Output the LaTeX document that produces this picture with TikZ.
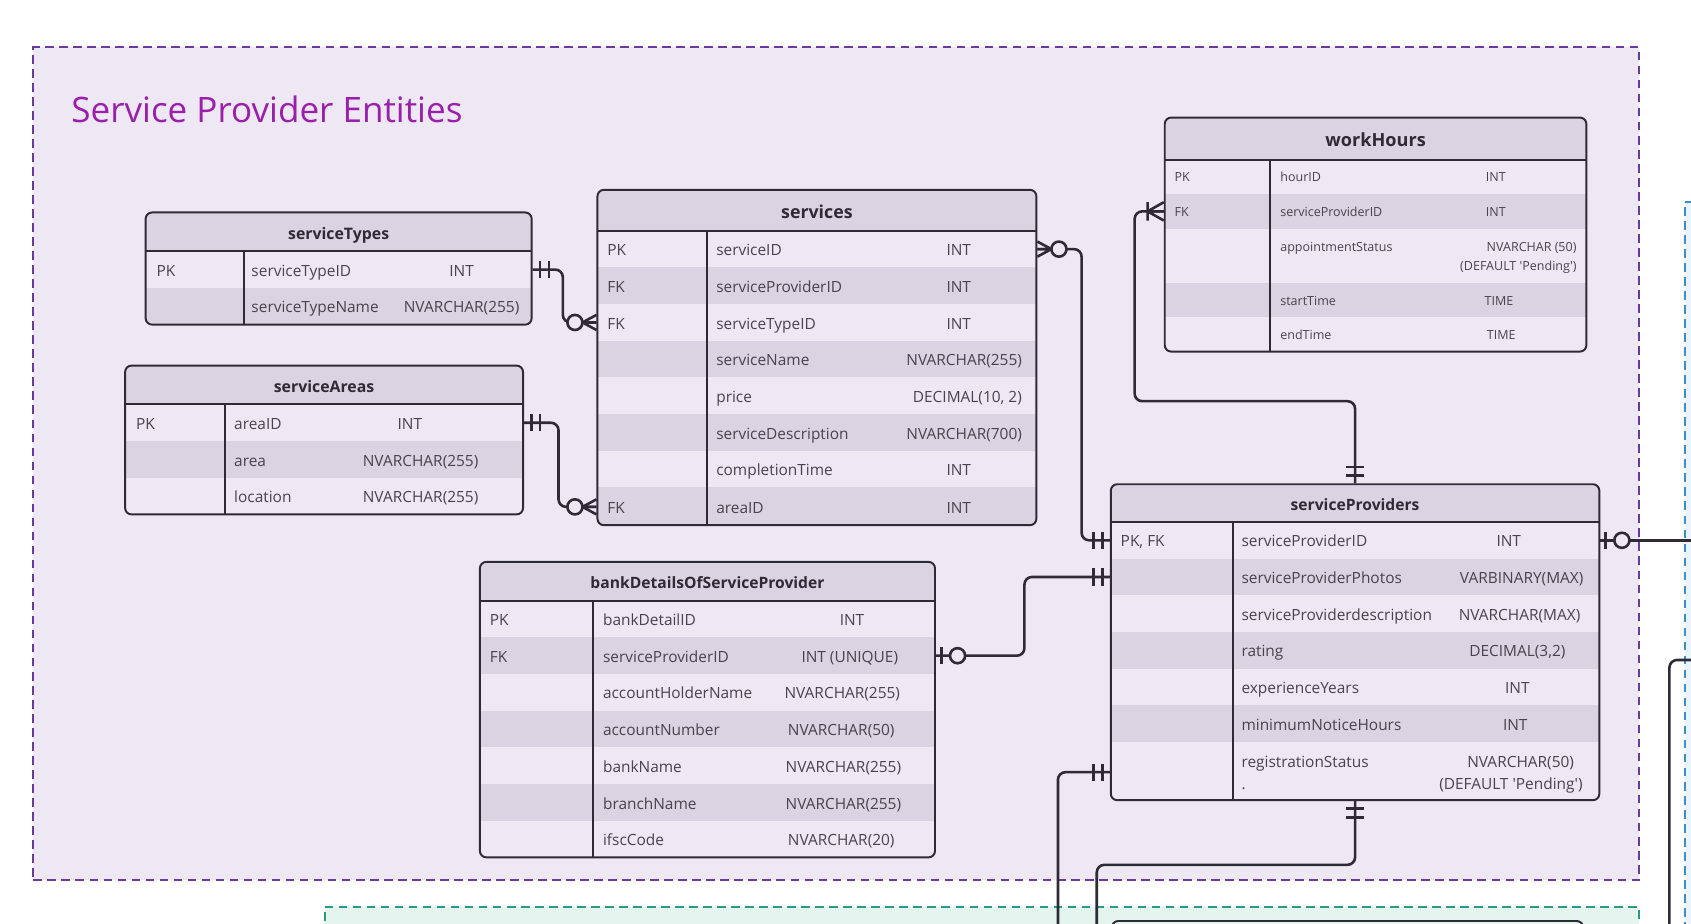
\documentclass[tikz,border=0pt]{standalone}
\usepackage{fontspec}
\setmainfont{Open Sans}
\usetikzlibrary{fit,calc}
\definecolor{bgP}{HTML}{EEE8F5}
\definecolor{rowgy}{HTML}{DAD3E1}
\definecolor{lineC}{HTML}{2E2A36}
\definecolor{txtC}{HTML}{48434F}
\definecolor{purpD}{HTML}{6A3A9E}
\definecolor{titleC}{HTML}{9A1FAA}
\definecolor{greenD}{HTML}{2A9A80}
\definecolor{greenF}{HTML}{E4F5EF}
\definecolor{blueD}{HTML}{3A8ED2}
\definecolor{blueF}{HTML}{EBF4FC}
\tikzset{
  erbox/.style={draw=lineC, line width=1.8pt, rounded corners=6pt, inner sep=0pt},
  erline/.style={draw=lineC, line width=1.8pt},
  conn/.style={draw=lineC, line width=2.4pt, rounded corners=7pt},
  mk/.style={draw=lineC, line width=2.4pt},
  cell/.style={inner sep=0pt, text=txtC, font=\fontsize{\ERfs}{\ERfs}\selectfont},
  hdrtext/.style={inner sep=0pt, text=lineC, font=\fontsize{\ERhs}{\ERhs}\selectfont\bfseries},
  container/.style={line width=1.8pt, dash pattern=on 8pt off 5pt, inner sep=0pt},
}
% table frame: name, left, top, right, header bottom, bottom, divider, gray rows, title
\newcommand\ERtable[9]{%
  \begin{scope}
    \clip[rounded corners=6pt] (#2,#3) rectangle (#4,#6);
    \fill[bgP] (#2,#3) rectangle (#4,#6);
    \fill[rowgy] (#2,#3) rectangle (#4,#5);
    \foreach \ya/\yb in {#8}{\fill[rowgy] (#2,\ya) rectangle (#4,\yb);}
  \end{scope}
  \draw[erline] (#2,#5) -- (#4,#5) (#7,#5) -- (#7,#6);
  \node[erbox, fit={(#2,#3)(#4,#6)}] (#1) {};
  \node[hdrtext, anchor=base] (#1-title) at ({(#2+#4)/2},{(#3+#5)/2+0.36*\ERhs+1.5}) {#9};
}
% row: [type x], id, y centre, key, field, type
\newcommand\ERrow[6][\ERtx]{%
  \coordinate (\ERn-#2) at (\ERnx,#3);
  \if\relax\detokenize{#4}\relax\else
    \node[cell,anchor=base west] (\ERn-#2-key) at (\ERkx,{#3+0.36*\ERfs+1}) {#4};\fi
  \node[cell,anchor=base west] (\ERn-#2-field) at (\ERnx,{#3+0.36*\ERfs+1}) {#5};
  \node[cell,anchor=base] (\ERn-#2-type) at (#1,{#3+0.36*\ERfs+1}) {#6};
}
% markers: position, direction (angle pointing away from the table)
\newcommand\mkOne[2]{\begin{scope}[shift={#1},rotate=#2]
  \draw[mk] (7,-8) -- (7,8) (15,-8) -- (15,8);\end{scope}}
\newcommand\mkZeroOne[2]{\begin{scope}[shift={#1},rotate=#2]
  \draw[mk] (5,-8) -- (5,8); \draw[mk, fill=bgP] (20,0) circle[radius=7pt];\end{scope}}
\newcommand\mkZeroMany[2]{\begin{scope}[shift={#1},rotate=#2]
  \draw[mk] (0,-7) -- (13,0) -- (0,7) (0,0) -- (13,0); \draw[mk, fill=bgP] (20,0) circle[radius=7pt];\end{scope}}
\newcommand\mkOneMany[2]{\begin{scope}[shift={#1},rotate=#2]
  \draw[mk] (0,-8.5) -- (15,0) -- (0,8.5) (0,0) -- (15,0) (15,-8.5) -- (15,8.5);\end{scope}}
\begin{document}
\begin{tikzpicture}[x=1pt,y=-1pt]
\useasboundingbox (0,0) rectangle (1568,856);
\clip (0,0) rectangle (1568,856);
\fill[white] (0,0) rectangle (1568,856);
% containers
\node[container, draw=purpD, fill=bgP, fit={(31,44)(1520,816)}] (spGroup) {};
\node[container, draw=greenD, fill=greenF, fit={(301,841)(1520,920)}] (greenGroup) {};
\node[container, draw=blueD, fill=blueF, fit={(1562,187)(1700,920)}] (blueGroup) {};
\node[anchor=base west, inner sep=0pt, text=titleC, font=\fontsize{32.5}{32.5}\selectfont] (title) at (66,114) {Service Provider Entities};
\node[erbox, fill=greenF, fit={(1031,854)(1468,920)}] (nextTable) {};

% serviceTypes
\def\ERn{serviceTypes}\def\ERkx{145}\def\ERnx{233}\def\ERtx{428}\def\ERfs{14.3}\def\ERhs{14.7}
\ERtable{serviceTypes}{135}{197}{493}{233}{301}{226}{267/301}{serviceTypes}
\ERrow{1}{250}{PK}{serviceTypeID}{INT}
\ERrow{2}{284}{}{serviceTypeName}{NVARCHAR(255)}

% serviceAreas
\def\ERn{serviceAreas}\def\ERkx{126}\def\ERnx{217}\def\ERtx{390}\def\ERfs{14.3}\def\ERhs{14.7}
\ERtable{serviceAreas}{116}{339}{485}{375}{477}{209}{409/443}{serviceAreas}
\ERrow[380]{1}{392}{PK}{areaID}{INT}
\ERrow{2}{426}{}{area}{NVARCHAR(255)}
\ERrow{3}{460}{}{location}{NVARCHAR(255)}

% services
\def\ERn{services}\def\ERkx{563}\def\ERnx{664}\def\ERtx{889}\def\ERfs{14.3}\def\ERhs{16.5}
\ERtable{services}{554}{176}{961}{214}{487}{656}{248/282,316/350,384/418,452/487}{services}
\ERrow{1}{231}{PK}{serviceID}{INT}
\ERrow{2}{265}{FK}{serviceProviderID}{INT}
\ERrow{3}{299}{FK}{serviceTypeID}{INT}
\ERrow[894]{4}{333}{}{serviceName}{NVARCHAR(255)}
\ERrow[897]{5}{367}{}{price}{DECIMAL(10, 2)}
\ERrow[894]{6}{401}{}{serviceDescription}{NVARCHAR(700)}
\ERrow{7}{435}{}{completionTime}{INT}
\ERrow{8}{470}{FK}{areaID}{INT}

% workHours
\def\ERn{workHours}\def\ERkx{1089}\def\ERnx{1187}\def\ERtx{1387}\def\ERfs{11.6}\def\ERhs{16.8}
\ERtable{workHours}{1080}{109}{1471}{148}{326}{1178}{180/212,262/294}{workHours}
\ERrow{1}{163}{PK}{hourID}{INT}
\ERrow{2}{196}{FK}{serviceProviderID}{INT}
\coordinate (workHours-3) at (1187,237);
\node[cell,anchor=base west] (workHours-3-field) at (1187,233) {appointmentStatus};
\node[cell,anchor=base east] (workHours-3-type) at (1462,233) {NVARCHAR (50)};
\node[cell,anchor=base east] (workHours-3-type2) at (1462,250.5) {(DEFAULT \textquotesingle Pending\textquotesingle)};
\ERrow[1390]{4}{278}{}{startTime}{TIME}
\ERrow[1392]{5}{310}{}{endTime}{TIME}

% serviceProviders
\def\ERn{serviceProviders}\def\ERkx{1039}\def\ERnx{1151}\def\ERtx{1407}\def\ERfs{14.3}\def\ERhs{14.5}
\ERtable{serviceProviders}{1030}{449}{1483}{484}{742}{1143}{518/552,586/620,654/688}{serviceProviders}
\ERrow[1399]{1}{501}{PK, FK}{serviceProviderID}{INT}
\ERrow[1411]{2}{535}{}{serviceProviderPhotos}{VARBINARY(MAX)}
\ERrow[1409]{3}{569}{}{serviceProviderdescription}{NVARCHAR(MAX)}
\ERrow{4}{603}{}{rating}{DECIMAL(3,2)}
\ERrow{5}{637}{}{experienceYears}{INT}
\ERrow[1405]{6}{671}{}{minimumNoticeHours}{INT}
\coordinate (serviceProviders-7) at (1151,716);
\node[cell,anchor=base west] (serviceProviders-7-field) at (1151,712) {registrationStatus};
\node[cell,anchor=base west] (serviceProviders-7-field2) at (1151,732) {.};
\node[cell,anchor=base] (serviceProviders-7-type) at (1410,712) {NVARCHAR(50)};
\node[cell,anchor=base] (serviceProviders-7-type2) at (1401,732) {(DEFAULT \textquotesingle Pending\textquotesingle)};

% bankDetailsOfServiceProvider
\def\ERn{bankDetails}\def\ERkx{454}\def\ERnx{559}\def\ERtx{781}\def\ERfs{14.3}\def\ERhs{14.5}
\ERtable{bankDetails}{445}{521}{867}{557}{795}{550}{591/625,659/693,727/761}{bankDetailsOfServiceProvider}
\ERrow[790]{1}{574}{PK}{bankDetailID}{INT}
\ERrow[788]{2}{608}{FK}{serviceProviderID}{INT (UNIQUE)}
\ERrow{3}{642}{}{accountHolderName}{NVARCHAR(255)}
\ERrow[780]{4}{676}{}{accountNumber}{NVARCHAR(50)}
\ERrow[782]{5}{710}{}{bankName}{NVARCHAR(255)}
\ERrow[782]{6}{744}{}{branchName}{NVARCHAR(255)}
\ERrow[780]{7}{778}{}{ifscCode}{NVARCHAR(20)}

% connectors
\coordinate (c6end) at (981,880);
\coordinate (c7end) at (1017,880);
\coordinate (c8end) at (1590,501);
\coordinate (c9a) at (1590,612);
\coordinate (c9b) at (1548,880);
\draw[conn] (serviceTypes-1 -| serviceTypes.east) -- ++(28,0) |- (services-3 -| services.west);
\draw[conn] (serviceAreas-1 -| serviceAreas.east) -- ++(32,0) |- (services-8 -| services.west);
\draw[conn] (services-1 -| services.east) -- ++(41,0) |- (serviceProviders-1 -| serviceProviders.west);
\draw[conn] (workHours-2 -| workHours.west) -- ++(-27,0) -- ++(0,176) -| (serviceProviders.north);
\draw[conn] (bankDetails-2 -| bankDetails.east) -- ++(82,0) |- (serviceProviders-2 -| serviceProviders.west);
\draw[conn] (serviceProviders-7 -| serviceProviders.west) -| (c6end);
\draw[conn] (serviceProviders.south) -- ++(0,59) -| (c7end);
\draw[conn] (serviceProviders-1 -| serviceProviders.east) -- (c8end);
\draw[conn] (c9a) -| (c9b);

% markers
\mkOne{(serviceTypes-1 -| serviceTypes.east)}{0}
\mkZeroMany{(services-3 -| services.west)}{180}
\mkOne{(serviceAreas-1 -| serviceAreas.east)}{0}
\mkZeroMany{(services-8 -| services.west)}{180}
\mkZeroMany{(services-1 -| services.east)}{0}
\mkOne{(serviceProviders-1 -| serviceProviders.west)}{180}
\mkOneMany{(workHours-2 -| workHours.west)}{180}
\mkOne{(serviceProviders.north)}{90}
\mkZeroOne{(bankDetails-2 -| bankDetails.east)}{0}
\mkOne{(serviceProviders-2 -| serviceProviders.west)}{180}
\mkOne{(serviceProviders-7 -| serviceProviders.west)}{180}
\mkOne{(serviceProviders.south)}{-90}
\mkZeroOne{(serviceProviders-1 -| serviceProviders.east)}{0}
\end{tikzpicture}
\end{document}
